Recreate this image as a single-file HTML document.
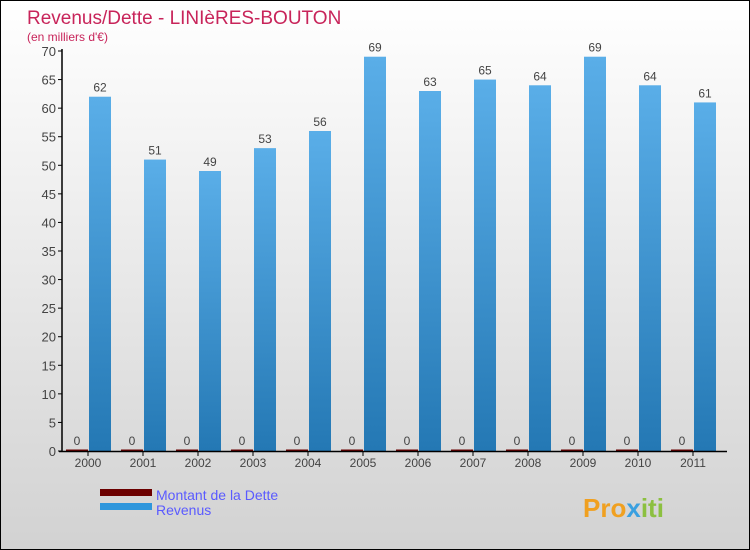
<!DOCTYPE html>
<html><head><meta charset="utf-8"><style>
body{margin:0}
#c{width:748px;height:548px;border:1px solid #000;background:linear-gradient(#fff,#d2d2d2);position:relative;font-family:"Liberation Sans",sans-serif;overflow:hidden}
</style></head><body>
<div id="c">
<svg width="748" height="548" id="svg" style="position:absolute;left:0;top:0">
<text x="26" y="23" font-size="19" fill="#c8245a">Revenus/Dette - LINIèRES-BOUTON</text>
<text x="26" y="40" font-size="12" fill="#c8245a">(en milliers d'€)</text>
<g id="plot"></g>
<rect x="99" y="488" width="52" height="7" fill="#6b0000"/>
<text x="155" y="499" font-size="14" fill="#5a5aff">Montant de la Dette</text>
<rect x="99" y="502" width="52" height="7" fill="#2e96dc"/>
<text x="155" y="514" font-size="14" fill="#5a5aff">Revenus</text>
<text x="582" y="516" font-size="26" font-weight="bold" fill="#f0a020">Pro<tspan fill="#3aa0e0">x</tspan><tspan fill="#8cc040">iti</tspan></text>
</svg>
</div>
<script>
const categories=["2000","2001","2002","2003","2004","2005","2006","2007","2008","2009","2010","2011"];
const dette=[0,0,0,0,0,0,0,0,0,0,0,0];
const revenus=[62,51,49,53,56,69,63,65,64,69,64,61];
const yTicks=[0,5,10,15,20,25,30,35,40,45,50,55,60,65,70];
const NS="http://www.w3.org/2000/svg";
const g=document.getElementById('plot');
const y0=450,yTop=50,yMax=70,x0=60,gw=55;
function y(v){return y0-(v/yMax)*(y0-yTop);}
function gx(i){return x0+gw*i;}
function mk(t,a,txt){const e=document.createElementNS(NS,t);for(const k in a)e.setAttribute(k,a[k]);if(txt!==undefined)e.textContent=txt;g.appendChild(e);return e;}
const defs=mk('defs',{});
defs.innerHTML='<linearGradient id="bg" x1="0" y1="0" x2="0" y2="1"><stop offset="0" stop-color="#5aaee8"/><stop offset="1" stop-color="#2478b4"/></linearGradient>';
yTicks.forEach(t=>{
  const l=mk('line',{x1:57,x2:61,y1:y(t),y2:y(t),stroke:'#000'});
  
  
  const tx=mk('text',{x:55,y:y(t)+5,'text-anchor':'end','font-size':13,fill:'#444'},t);
  
  
});
categories.forEach((c,i)=>{
  const cx=gx(i)+27;
  const d=mk('rect',{x:gx(i)+5,y:y(dette[i])-1.5,width:22,height:Math.max(1.5,y0-y(dette[i])),fill:'#6b0000'});
  
  
  const dl=mk('text',{x:gx(i)+16,y:y(dette[i])-6,'text-anchor':'middle','font-size':12,fill:'#444'},dette[i]);
  
  
  const r=mk('rect',{x:gx(i)+28,y:y(revenus[i]),width:22,height:y0-y(revenus[i]),fill:'url(#bg)'});
  
  
  const rl=mk('text',{x:gx(i)+39,y:y(revenus[i])-5,'text-anchor':'middle','font-size':12,fill:'#444'},revenus[i]);
  
  
  const t=mk('line',{x1:cx,x2:cx,y1:450,y2:455,stroke:'#000'});
  
  
  const xl=mk('text',{x:cx,y:466,'text-anchor':'middle','font-size':12,fill:'#444'},c);
  
  
});
const ax=mk('line',{x1:61,x2:61,y1:48,y2:451,stroke:'#000','stroke-width':1.5});


const bx=mk('line',{x1:58,x2:726,y1:450.5,y2:450.5,stroke:'#000','stroke-width':1.5});


</script>
</body></html>
